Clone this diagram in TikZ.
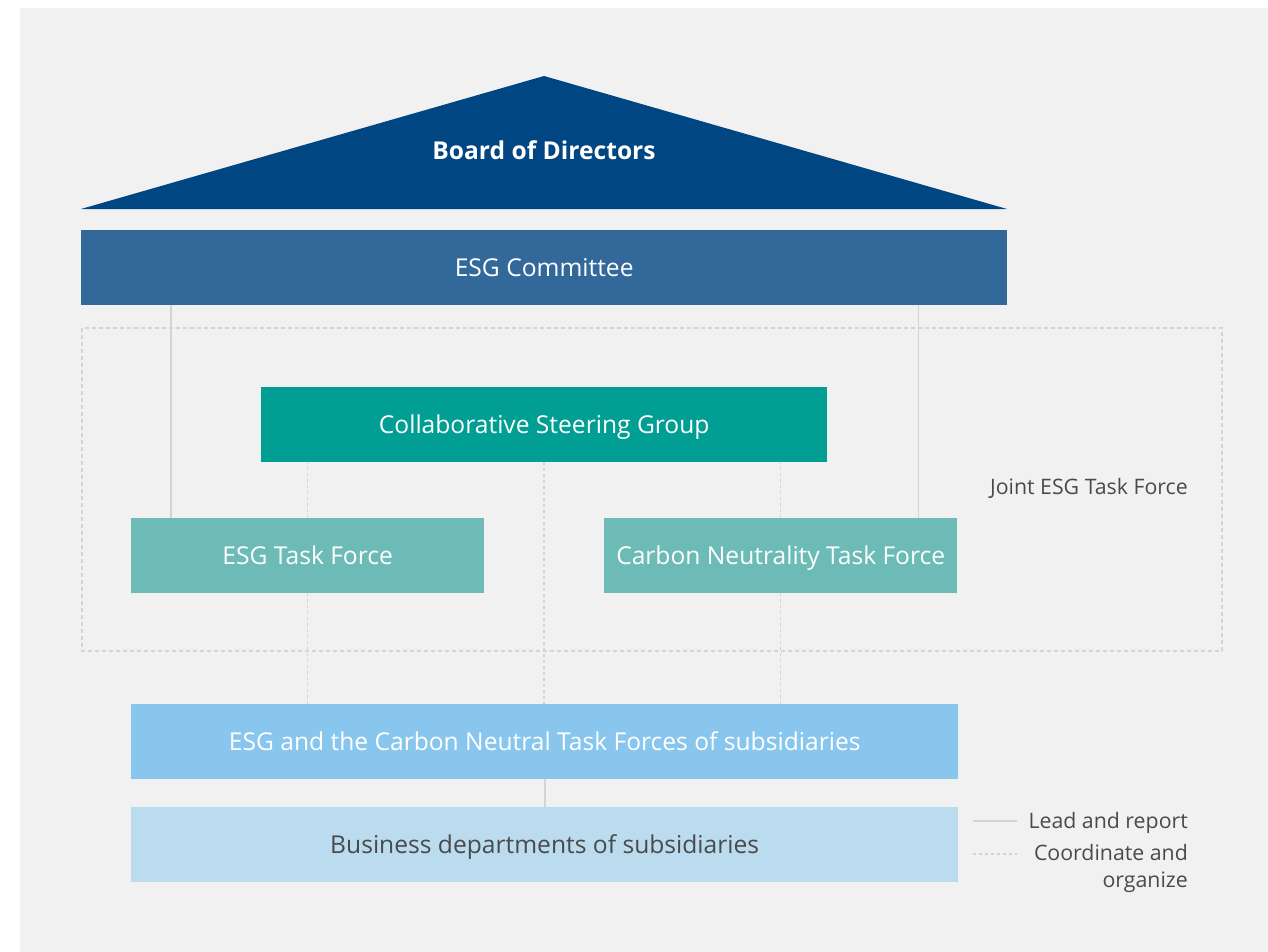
\documentclass[tikz,border=0pt]{standalone}
\usepackage{fontspec}
\setmainfont{Open Sans}
\usetikzlibrary{calc}
\definecolor{panel}{HTML}{F1F1F1}
\definecolor{navy}{HTML}{004682}
\definecolor{committee}{HTML}{33699A}
\definecolor{steer}{HTML}{009E93}
\definecolor{taskf}{HTML}{6CBBB6}
\definecolor{subs}{HTML}{88C6EE}
\definecolor{busi}{HTML}{BADCEE}
\definecolor{linegray}{HTML}{D4D4D4}
\definecolor{txtgray}{HTML}{4A4A4A}
\tikzset{
  box/.style={rectangle, inner sep=0pt, anchor=north west, text=white,
    font=\fontsize{24.6}{28}\selectfont, text height=20pt, text depth=2pt},
  lead/.style={draw=linegray, line width=1.8pt},
  coord/.style={draw=linegray, line width=1.5pt, dash pattern=on 3pt off 3pt},
  frame/.style={draw=linegray, line width=1.3pt, dash pattern=on 4pt off 3pt},
  legendtxt/.style={text=txtgray, font=\fontsize{21.3}{27}\selectfont, inner sep=0pt}
}
\begin{document}
\begin{tikzpicture}[x=1pt, y=-1pt]
\useasboundingbox (0,0) rectangle (1268,952);
\fill[white] (0,0) rectangle (1268,952);
\fill[panel] (20,8) rectangle (1268,952);

% roof: board of directors
\fill[navy] (81,209) -- (544,76) -- (1007,209) -- cycle;
\node[text=white, font=\fontsize{24.6}{28}\selectfont\bfseries] (bod) at (544,150) {Board of Directors};

% committee
\node[box, fill=committee, minimum width=926pt, minimum height=75pt] (esgc) at (81,230) {ESG Committee};

% joint task force frame
\draw[frame] (82,328) rectangle (1222,651);
\node[legendtxt, anchor=east] (joint) at (1188,488) {Joint ESG Task Force};

\node[box, fill=steer, minimum width=566pt, minimum height=75pt] (csg) at (261,387) {Collaborative Steering Group};
\node[box, fill=taskf, minimum width=353pt, minimum height=75pt] (tf1) at (131,518) {ESG Task Force};
\node[box, fill=taskf, minimum width=353pt, minimum height=75pt] (tf2) at (604,518) {Carbon Neutrality Task Force};

\node[box, fill=subs, minimum width=827pt, minimum height=75pt] (sub) at (131,704) {ESG and the Carbon Neutral Task Forces of subsidiaries};
\node[box, fill=busi, text=txtgray, minimum width=827pt, minimum height=75pt] (bus) at (131,807) {Business departments of subsidiaries};

% lead and report
\draw[lead] ([xshift=40pt]tf1.north west) -- ([xshift=40pt]tf1.north west |- esgc.south);
\draw[lead] ([xshift=-39pt]tf2.north east) -- ([xshift=-39pt]tf2.north east |- esgc.south);
\draw[lead] (sub.south) -- (bus.north);

% coordinate and organize
\draw[coord] (tf1.north) -- (tf1.north |- csg.south);
\draw[coord] (tf2.north) -- (tf2.north |- csg.south);
\draw[coord] (csg.south) -- (csg.south |- sub.north);
\draw[coord] (tf1.south) -- (tf1.south |- sub.north);
\draw[coord] (tf2.south) -- (tf2.south |- sub.north);

% legend
\coordinate (l1a) at (973,821);
\coordinate (l1b) at (1017,821);
\coordinate (l2a) at (973,854);
\coordinate (l2b) at (1017,854);
\draw[draw=linegray, line width=1.3pt] (l1a) -- (l1b);
\draw[draw=linegray, line width=1.3pt, dash pattern=on 3pt off 3pt] (l2a) -- (l2b);
\node[legendtxt, anchor=east] (leg1) at (1188,823) {Lead and report};
\node[legendtxt, anchor=north east, align=right] (leg2) at (1188,844) {Coordinate and\\organize};
\end{tikzpicture}
\end{document}
